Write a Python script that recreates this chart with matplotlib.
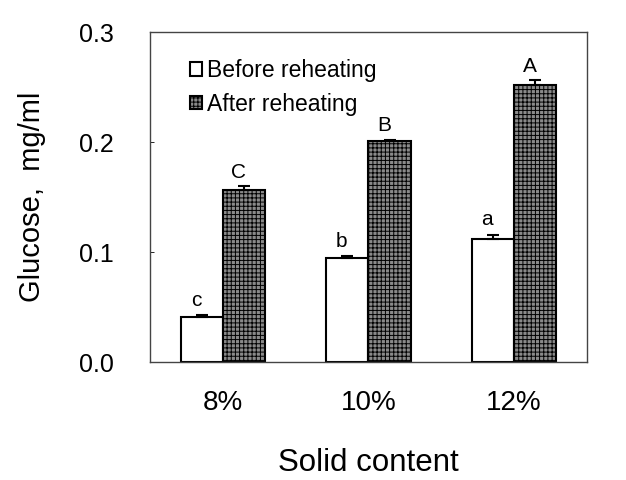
import numpy as np
import matplotlib
matplotlib.use("Agg")
import matplotlib.pyplot as plt

plt.rcParams['font.family'] = ['Liberation Sans', 'DejaVu Sans']
plt.rcParams['hatch.linewidth'] = 0.7

# data
categories = ['8%', '10%', '12%']
before = [0.041, 0.095, 0.112]
before_err = [0.0015, 0.0012, 0.0035]
after = [0.156, 0.201, 0.252]
after_err = [0.004, 0.0012, 0.004]
before_letters = ['c', 'b', 'a']
after_letters = ['C', 'B', 'A']

fig = plt.figure(figsize=(6.26, 4.8), dpi=100)
ax = fig.add_axes([0.2396, 0.2458, 0.698, 0.6875])

x = np.arange(len(categories))
w = 0.29

ax.bar(x - w/2, before, w, color='white', edgecolor='black', linewidth=1.5,
       yerr=[np.zeros(3), before_err], capsize=4,
       error_kw=dict(ecolor='black', elinewidth=1.5, capthick=1.5),
       label='Before reheating', zorder=2)
ax.bar(x + w/2, after, w, color='#8a8a8a', edgecolor='black', linewidth=1.5,
       hatch='++++', yerr=[np.zeros(3), after_err], capsize=4,
       error_kw=dict(ecolor='black', elinewidth=1.5, capthick=1.5),
       label='After reheating', zorder=2)

# significance letters
for i in range(len(categories)):
    ax.text(x[i] - w/2 - 0.04, before[i] + before_err[i] + 0.005, before_letters[i],
            ha='center', va='bottom', fontsize=15)
    ax.text(x[i] + w/2 - 0.04, after[i] + after_err[i] + 0.004, after_letters[i],
            ha='center', va='bottom', fontsize=15)

ax.set_xlim(-0.5, 2.5)
ax.set_ylim(0, 0.3)
ax.set_yticks([0.0, 0.1, 0.2, 0.3])
ax.set_yticklabels(['0.0', '0.1', '0.2', '0.3'])
ax.set_xticks(x)
ax.set_xticklabels(categories)
ax.tick_params(axis='x', length=0, pad=20, labelsize=20)
ax.tick_params(axis='y', direction='in', length=3, width=0.6, pad=26, labelsize=18)

for s in ax.spines.values():
    s.set_linewidth(1.0)
    s.set_color('#444444')

ax.set_xlabel('Solid content', fontsize=22.5, labelpad=23)
ax.set_ylabel('Glucose,  mg/ml', fontsize=21, labelpad=24)

leg = ax.legend(loc='upper left', bbox_to_anchor=(0.07, 0.945), frameon=False,
                fontsize=16.5, handlelength=0.55, handleheight=0.55,
                handletextpad=0.2, labelspacing=0.45, borderaxespad=0)

fig.savefig('out.png', dpi=100)
